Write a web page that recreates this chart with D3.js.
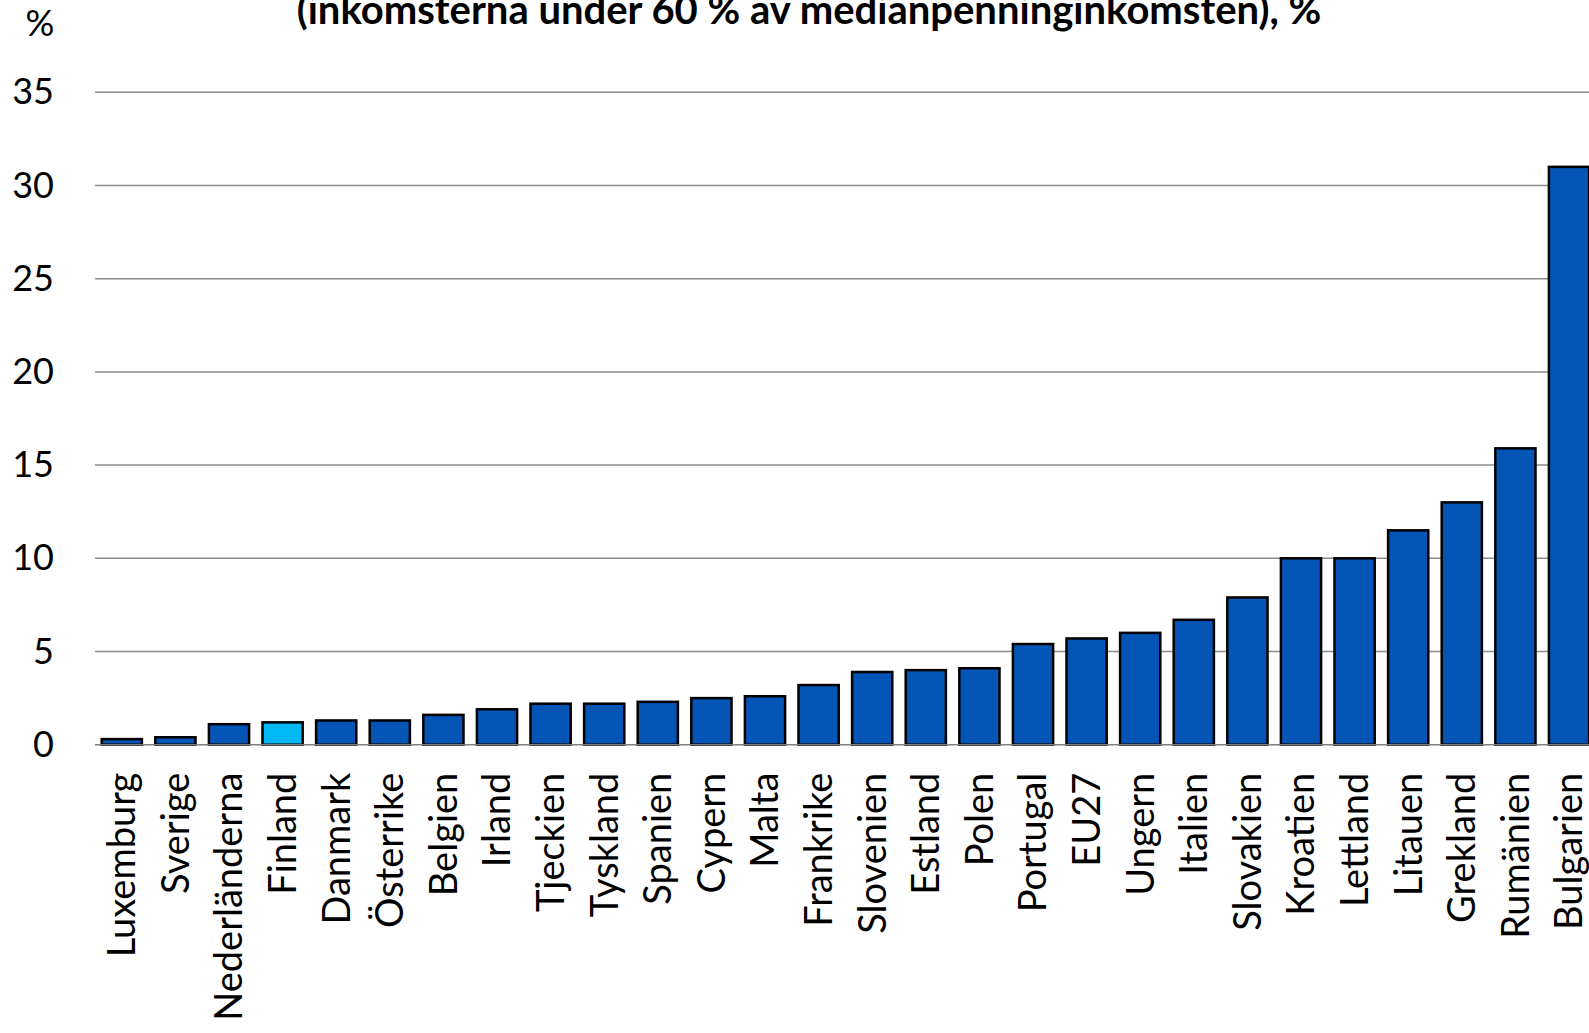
<!DOCTYPE html>
<html>
<head>
<meta charset="utf-8">
<script src="https://cdn.jsdelivr.net/npm/d3@7"></script>
<style>
  html, body { margin: 0; padding: 0; background: #fff; overflow: hidden; }
  svg { display: block; }
</style>
</head>
<body>
<div id="chart"></div>
<script>
const width = 1589;
const height = 1033;
const margin = {top: 92.3, bottom: 288.3, left: 95};
const step = 53.6;

const countries = ["Luxemburg", "Sverige", "Nederländerna", "Finland", "Danmark", "Österrike",
    "Belgien", "Irland", "Tjeckien", "Tyskland", "Spanien", "Cypern", "Malta", "Frankrike",
    "Slovenien", "Estland", "Polen", "Portugal", "EU27", "Ungern", "Italien", "Slovakien",
    "Kroatien", "Lettland", "Litauen", "Grekland", "Rumänien", "Bulgarien"];
const values = [0.3, 0.4, 1.1, 1.2, 1.3, 1.3, 1.6, 1.9, 2.2, 2.2, 2.3, 2.5, 2.6, 3.2,
    3.9, 4.0, 4.1, 5.4, 5.7, 6.0, 6.7, 7.9, 10.0, 10.0, 11.5, 13.0, 15.9, 31.0];
const yTicks = [0, 5, 10, 15, 20, 25, 30, 35];
const highlight = "Finland";
const title = "(inkomsterna under 60 % av medianpenninginkomsten), %";

const font = "Lato, 'Open Sans', sans-serif";

const svg = d3.select("#chart").append("svg")
    .attr("viewBox", `0 0 ${width} ${height}`)
    .attr("preserveAspectRatio", "xMinYMin meet")
    .style("width", "100vw")
    .style("height", "100vh");

// Bulgarien runs off the right edge, as in the original
const x = d3.scaleBand()
    .domain(countries)
    .range([margin.left, margin.left + countries.length * step])
    .paddingInner(0.25)
    .paddingOuter(0.125);

const y = d3.scaleLinear()
    .domain([0, 35])
    .range([height - margin.bottom, margin.top]);

// Gridlines
svg.append("g")
    .selectAll("line")
    .data(yTicks.filter(d => d > 0))
    .enter().append("line")
    .attr("x1", margin.left)
    .attr("x2", width)
    .attr("y1", d => y(d))
    .attr("y2", d => y(d))
    .attr("stroke", "#8c8c8c")
    .attr("stroke-width", 1.5);

// Y-axis labels
const yAxis = svg.append("g")
    .attr("transform", `translate(${margin.left},0)`)
    .call(d3.axisLeft(y).tickValues(yTicks).tickSize(0).tickPadding(41));
yAxis.select(".domain").remove();
yAxis.selectAll("text")
    .style("font-family", font)
    .style("font-size", "36px")
    .attr("fill", "#000");

// Bars
svg.append("g")
    .selectAll("rect")
    .data(countries)
    .enter().append("rect")
    .attr("x", d => x(d))
    .attr("y", (d, i) => y(values[i]))
    .attr("width", x.bandwidth())
    .attr("height", (d, i) => y(0) - y(values[i]))
    .attr("fill", d => d === highlight ? "#00b8f4" : "#0455b5")
    .attr("stroke", "#000")
    .attr("stroke-width", 2.5);

// Baseline
svg.append("line")
    .attr("x1", margin.left)
    .attr("x2", width)
    .attr("y1", y(0))
    .attr("y2", y(0))
    .attr("stroke", "#7f7f7f")
    .attr("stroke-width", 1.5);

// X-axis labels
const xAxis = svg.append("g")
    .attr("transform", `translate(0,${y(0)})`)
    .call(d3.axisBottom(x).tickSize(0).tickPadding(0));
xAxis.select(".domain").remove();
xAxis.selectAll("text")
    .style("font-family", font)
    .style("font-size", "38px")
    .attr("fill", "#000")
    .style("text-anchor", "end")
    .attr("x", -28)
    .attr("y", 0)
    .attr("dy", "0.35em")
    .attr("transform", "rotate(-90)");

// Title (top line is cut off in the original)
svg.append("text")
    .attr("x", 809)
    .attr("y", 24)
    .attr("text-anchor", "middle")
    .style("font-family", font)
    .style("font-size", "40px")
    .style("font-weight", "bold")
    .text(title);

// Unit label
svg.append("text")
    .attr("x", 40)
    .attr("y", 36)
    .attr("text-anchor", "middle")
    .style("font-family", font)
    .style("font-size", "36px")
    .text("%");
</script>
</body>
</html>
